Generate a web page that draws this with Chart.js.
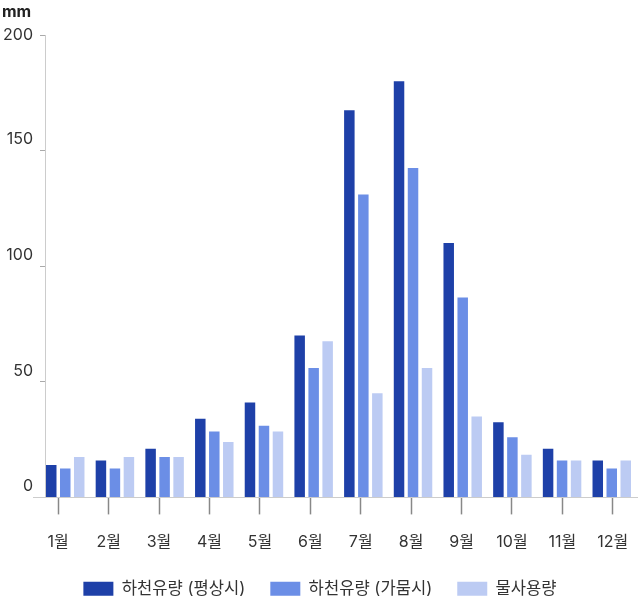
<!DOCTYPE html>
<html lang="ko">
<head>
<meta charset="utf-8">
<title>월별 하천유량과 물사용량</title>
<script src="https://cdn.jsdelivr.net/npm/chart.js@4.4.1/dist/chart.umd.min.js"></script>
<style>
  html, body { margin: 0; padding: 0; background: #fff; }
  #wrap { width: 638px; height: 600px; }
</style>
</head>
<body>
<div id="wrap"><canvas id="flowChart" width="638" height="600"></canvas></div>
<script>
// data (mm)
const months = ['1월', '2월', '3월', '4월', '5월', '6월', '7월', '8월', '9월', '10월', '11월', '12월'];
const normalFlow = [14, 16, 21, 34, 41, 70, 167.5, 180, 110, 32.5, 21, 16];
const droughtFlow = [12.5, 12.5, 17.5, 28.5, 31, 56, 131, 142.5, 86.5, 26, 16, 12.5];
const waterUse = [17.5, 17.5, 17.5, 24, 28.5, 67.5, 45, 56, 35, 18.5, 16, 16];
const seriesNames = ['하천유량 (평상시)', '하천유량 (가뭄시)', '물사용량'];
const seriesColors = ['#1e40a8', '#6b8ee6', '#bccbf3'];
const yTicks = [0, 50, 100, 150, 200];

const FONT = 'Inter, "Noto Sans CJK KR", sans-serif';
Chart.defaults.font.family = FONT;
Chart.defaults.font.size = 16;
Chart.defaults.color = '#333';

// bars and month ticks sit on slightly different bands in the original
const shiftBands = {
  id: 'shiftBands',
  afterLayout(chart) {
    const bars = chart.scales.x;
    const ticks = chart.scales.xTicks;
    ticks.left = 33;
    ticks.right = chart.width;
    bars.left = 40.4;
    bars.right = 636.6;
    [bars, ticks].forEach(s => {
      s.width = s.right - s.left;
      s._labelItems = null;
      s._gridLineItems = null;
      s.configure();
    });
  }
};

// y labels sit a little above their tick marks
const yLabels = {
  id: 'yLabels',
  afterDraw(chart) {
    const {ctx, chartArea, scales: {y}} = chart;
    ctx.save();
    ctx.font = '16px ' + FONT;
    ctx.fillStyle = '#333';
    ctx.textAlign = 'right';
    ctx.textBaseline = 'middle';
    y.ticks.forEach(t => {
      const py = Math.max(y.getPixelForValue(t.value) - 11, chartArea.top);
      ctx.fillText(String(t.value), 33, py);
    });
    ctx.restore();
  }
};

const datasets = [normalFlow, droughtFlow, waterUse].map((values, i) => ({
  label: seriesNames[i],
  data: values,
  backgroundColor: seriesColors[i],
  borderWidth: 0,
  categoryPercentage: 0.845,
  barPercentage: 0.75,
  xAxisID: 'x',
  yAxisID: 'y'
}));

new Chart(document.getElementById('flowChart'), {
  type: 'bar',
  data: { labels: months, datasets: datasets },
  options: {
    responsive: false,
    animation: false,
    devicePixelRatio: 1,
    layout: { padding: { top: 0, left: 2, right: 0, bottom: -7 } },
    scales: {
      x: { display: false, offset: true },
      xTicks: {
        type: 'category',
        axis: 'x',
        position: 'bottom',
        offset: true,
        grid: { offset: false, drawOnChartArea: false, tickLength: 17, tickColor: '#888', tickWidth: 1.5 },
        border: { color: '#ccc', width: 1 },
        ticks: { color: '#333', padding: 18, maxRotation: 0, autoSkip: false },
        afterFit(s) { s.height = 58; }
      },
      y: {
        min: 0,
        max: 200,
        afterBuildTicks(s) { s.ticks = yTicks.map(v => ({ value: v })); },
        grid: { drawOnChartArea: false, tickLength: 5, tickColor: '#aaa' },
        border: { color: '#ccc', width: 1 },
        ticks: { display: false },
        afterFit(s) { s.width = 43; }
      }
    },
    plugins: {
      title: {
        display: true,
        text: 'mm',
        align: 'start',
        color: '#222',
        font: { size: 16, weight: 'bold' },
        padding: { top: 2.4, bottom: 13.4 }
      },
      legend: {
        position: 'bottom',
        labels: { boxWidth: 30, boxHeight: 14, padding: 25, color: '#333', font: { size: 16.6 } }
      },
      tooltip: { enabled: false }
    }
  },
  plugins: [shiftBands, yLabels]
});
</script>
</body>
</html>
